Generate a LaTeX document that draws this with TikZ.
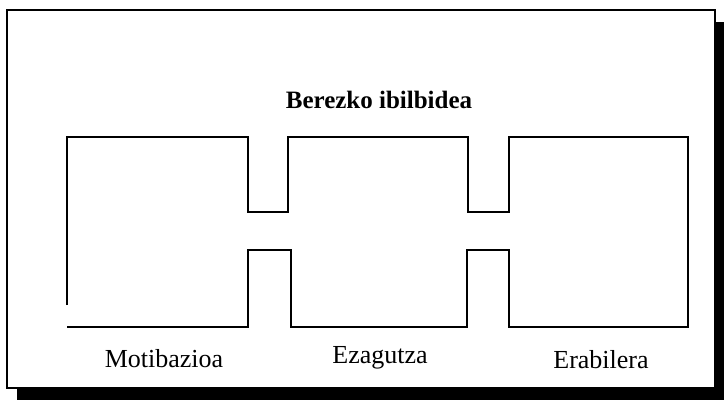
\documentclass[tikz,border=0pt]{standalone}
\usepackage{fontspec}
\setmainfont{Liberation Serif}
\usepackage{tikz}
\usetikzlibrary{positioning}

\begin{document}
\begin{tikzpicture}[
  x=1pt, y=-1pt,
  frame/.style={draw=black, line width=1.6pt, fill=white},
  shadowbox/.style={fill=black, draw=none},
  track/.style={draw=black, line width=1.8pt, line join=miter},
  title/.style={font=\fontsize{25}{28}\selectfont\bfseries, inner sep=0pt, anchor=base},
  stage/.style={font=\fontsize{26}{30}\selectfont, inner sep=0pt, anchor=base}
]
  \useasboundingbox (0,0) rectangle (724,400);
  % frame with drop shadow
  \fill[shadowbox] (17,22) rectangle (724,400);
  \draw[frame] (7,10) rectangle (715,388);

  % the path through the three rooms
  \draw[track] (67,305) -- (67,137) -- (248,137) -- (248,212) -- (288,212)
    -- (288,137) -- (468,137) -- (468,212) -- (509,212) -- (509,137)
    -- (688,137) -- (688,327) -- (509,327) -- (509,250) -- (467,250)
    -- (467,327) -- (291,327) -- (291,250) -- (248,250) -- (248,327)
    -- (67,327);

  \node[title] (ttl) at (379,108) {Berezko ibilbidea};
  \node[stage] (mot) at (164,367) {Motibazioa};
  \node[stage] (eza) at (380,363) {Ezagutza};
  \node[stage] (era) at (601,368) {Erabilera};
\end{tikzpicture}
\end{document}
